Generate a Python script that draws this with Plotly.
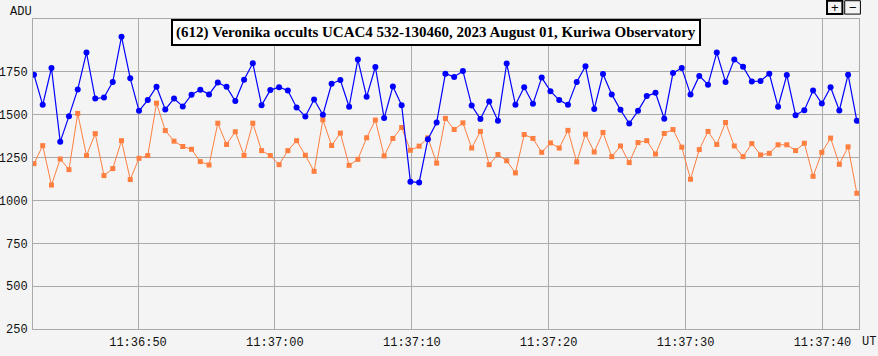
import plotly.graph_objects as go
from datetime import datetime, timedelta

# ---- data ----
start_time = "2023-08-01 11:36:42.400"
frame_interval_s = 0.6395

target_adu = [1734, 1558, 1773, 1342, 1492, 1648, 1863, 1595, 1601, 1692,
              1956, 1713, 1523, 1586, 1664, 1531, 1595, 1549, 1617, 1646,
              1619, 1688, 1663, 1580, 1705, 1801, 1556, 1644, 1661, 1642,
              1543, 1490, 1589, 1500, 1681, 1703, 1547, 1822, 1605, 1779,
              1481, 1665, 1556, 1110, 1105, 1358, 1455, 1740, 1721, 1756,
              1554, 1475, 1578, 1465, 1799, 1558, 1661, 1564, 1717, 1638,
              1586, 1558, 1692, 1783, 1534, 1738, 1619, 1529, 1449, 1523,
              1609, 1628, 1477, 1744, 1773, 1619, 1727, 1676, 1863, 1692,
              1822, 1781, 1694, 1697, 1740, 1547, 1732, 1498, 1527, 1642,
              1566, 1661, 1525, 1734, 1465]

comp_adu = [1215, 1320, 1090, 1242, 1180, 1508, 1262, 1390, 1145, 1186,
            1349, 1122, 1246, 1262, 1568, 1408, 1346, 1315, 1299, 1227,
            1207, 1451, 1327, 1401, 1262, 1451, 1291, 1262, 1209, 1291,
            1349, 1264, 1170, 1471, 1321, 1393, 1205, 1240, 1366, 1469,
            1260, 1362, 1426, 1293, 1317, 1366, 1218, 1479, 1414, 1453,
            1306, 1403, 1209, 1268, 1232, 1161, 1385, 1362, 1281, 1336,
            1306, 1409, 1225, 1387, 1283, 1397, 1256, 1318, 1221, 1338,
            1349, 1271, 1391, 1414, 1311, 1124, 1297, 1403, 1327, 1455,
            1318, 1256, 1332, 1266, 1275, 1325, 1325, 1291, 1334, 1141,
            1281, 1364, 1211, 1313, 1042]

y_tick_vals = [250, 500, 750, 1000, 1250, 1500, 1750]
x_tick_labels = ["11:36:50", "11:37:00", "11:37:10", "11:37:20", "11:37:30", "11:37:40"]
title_text = "(612) Veronika occults UCAC4 532-130460, 2023 August 01, Kuriwa Observatory"

t0 = datetime.strptime(start_time, "%Y-%m-%d %H:%M:%S.%f")
times = [t0 + timedelta(seconds=i * frame_interval_s) for i in range(len(target_adu))]
tick_times = [datetime.strptime("2023-08-01 " + s, "%Y-%m-%d %H:%M:%S") for s in x_tick_labels]

x_min = datetime.strptime("2023-08-01 11:36:42.330", "%Y-%m-%d %H:%M:%S.%f")
x_max = datetime.strptime("2023-08-01 11:37:42.670", "%Y-%m-%d %H:%M:%S.%f")

fig = go.Figure()
fig.add_trace(go.Scatter(
    x=times, y=comp_adu, mode="lines+markers",
    line=dict(color="#ff7f40", width=1),
    marker=dict(symbol="square", size=5, color="#ff7f40"),
    showlegend=False))
fig.add_trace(go.Scatter(
    x=times, y=target_adu, mode="lines+markers",
    line=dict(color="#0000ff", width=1.2),
    marker=dict(symbol="circle", size=6, color="#0000ff"),
    showlegend=False))

mono = dict(family="Liberation Mono, Courier New, monospace", size=12, color="#111111")
btn_font = dict(family="Liberation Sans, Arial", size=13, color="#000000")

fig.update_layout(
    width=878, height=356,
    margin=dict(l=33, r=19, t=19, b=27, autoexpand=False),
    paper_bgcolor="#f4f4f4", plot_bgcolor="#f4f4f4",
    xaxis=dict(
        type="date", range=[x_min, x_max],
        tickvals=tick_times, ticktext=x_tick_labels,
        showgrid=True, gridcolor="#aaaaaa", gridwidth=1,
        showline=True, linecolor="#aaaaaa", linewidth=1, mirror=True,
        zeroline=False, ticks="", tickfont=mono, ticklabelstandoff=2),
    yaxis=dict(
        range=[250, 2059], tickvals=y_tick_vals,
        showgrid=True, gridcolor="#aaaaaa", gridwidth=1,
        showline=True, linecolor="#aaaaaa", linewidth=1, mirror=True,
        zeroline=False, ticks="", tickfont=mono, ticklabelstandoff=2),
    annotations=[
        dict(text="<b>" + title_text + "</b>", xref="paper", yref="paper",
             x=0.4875, y=0.957, xanchor="center", yanchor="middle", showarrow=False,
             font=dict(family="Liberation Serif, Times New Roman, serif", size=15, color="#000000"),
             bgcolor="#ffffff", bordercolor="#000000", borderwidth=2, borderpad=3),
        dict(text="ADU", xref="paper", yref="paper", x=-0.0306, y=1.0235, xanchor="left",
             yanchor="middle", showarrow=False, font=mono),
        dict(text="UT", xref="paper", yref="paper", x=1.001, y=-0.041, xanchor="left",
             yanchor="middle", showarrow=False, font=mono),
        dict(text="+", xref="paper", yref="paper", x=0.9706, y=1.0387, xanchor="center",
             yanchor="middle", showarrow=False, font=btn_font),
        dict(text="\u2212", xref="paper", yref="paper", x=0.9922, y=1.0387, xanchor="center",
             yanchor="middle", showarrow=False, font=btn_font),
    ],
    shapes=[
        dict(type="rect", xref="paper", yref="paper", x0=0.9613, x1=0.9799, y0=1.0158, y1=1.0590,
             line=dict(color="#000000", width=2), fillcolor="rgba(0,0,0,0)", layer="above"),
        dict(type="rect", xref="paper", yref="paper", x0=0.9827, x1=1.0017, y0=1.0158, y1=1.0590,
             line=dict(color="#000000", width=1), fillcolor="rgba(0,0,0,0)", layer="above"),
    ],
)

fig.write_html("out.html", config={"displayModeBar": False},
               post_script="document.body.style.margin='0';document.body.style.overflow='hidden';")
